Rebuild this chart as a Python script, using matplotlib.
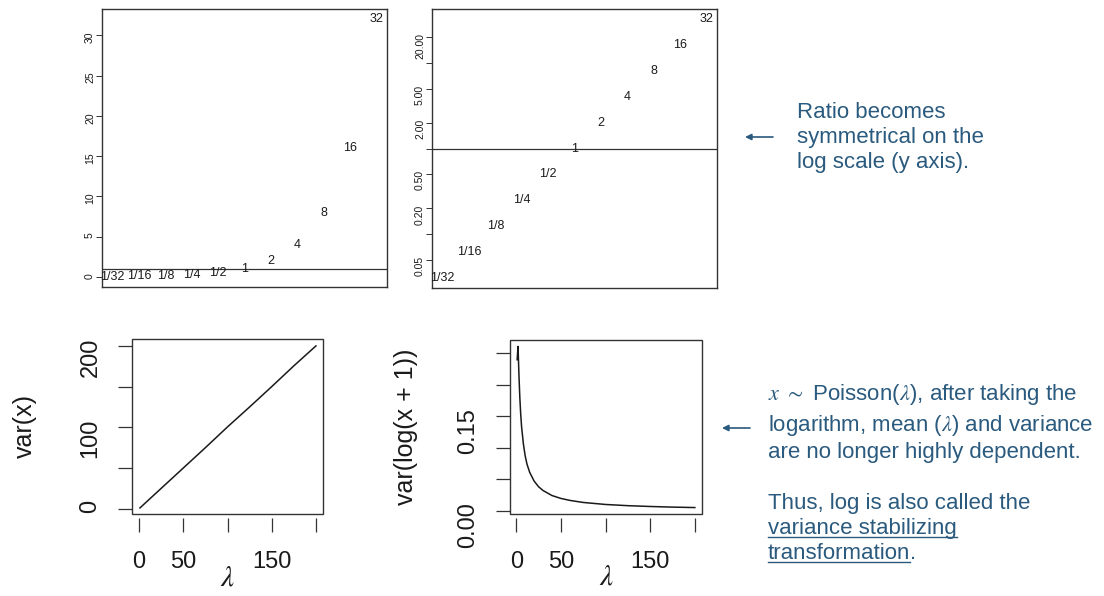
import matplotlib
matplotlib.use("Agg")
import matplotlib.pyplot as plt
from matplotlib.patches import Rectangle, FancyArrowPatch
from matplotlib.lines import Line2D
from matplotlib.ticker import NullLocator, FixedLocator, FixedFormatter

plt.rcParams['font.family'] = ['Liberation Sans', 'DejaVu Sans']
plt.rcParams['mathtext.fontset'] = 'stix'

# ---------------- data ----------------
ratio_labels = ["1/32", "1/16", "1/8", "1/4", "1/2", "1", "2", "4", "8", "16", "32"]
ratio_index = [1, 2, 3, 4, 5, 6, 7, 8, 9, 10, 11]
ratio_values = [0.03125, 0.0625, 0.125, 0.25, 0.5, 1, 2, 4, 8, 16, 32]

lin_yticks = [0, 5, 10, 15, 20, 25, 30]
lin_yticklabels = ["0", "5", "10", "15", "20", "25", "30"]
log_yticks = [0.05, 0.1, 0.2, 0.5, 1, 2, 5, 10, 20]
log_yticklabels = ["0.05", "", "0.20", "0.50", "", "2.00", "5.00", "", "20.00"]

lam_ticks = [0, 50, 100, 150, 200]
lam_ticklabels = ["0", "50", "", "150", ""]

lam_a = [1, 25, 50, 75, 100, 125, 150, 175, 200]
var_x = [1, 25, 50, 75, 100.5, 125, 150, 175.5, 200]
varx_ticks = [0, 50, 100, 150, 200]
varx_ticklabels = ["0", "", "100", "", "200"]

lam_b = [1, 2, 3, 4, 5, 6, 8, 10, 12, 15, 20, 25, 30, 40, 50, 60, 75, 100, 125, 150, 175, 200]
var_logx = [0.240, 0.261, 0.216, 0.180, 0.153, 0.133, 0.106, 0.087, 0.074, 0.061, 0.047,
            0.038, 0.032, 0.024, 0.0194, 0.0163, 0.013, 0.0098, 0.0079, 0.0066, 0.0056, 0.0049]
varlog_ticks = [0.0, 0.05, 0.10, 0.15, 0.20, 0.25]
varlog_ticklabels = ["0.00", "", "", "0.15", "", ""]

TEXT_BLUE = '#2a5a7e'
INK = '#1a1a1a'
BOX = '#333333'

W, H = 1104, 596
fig = plt.figure(figsize=(W / 100, H / 100), dpi=100)


def rect(x0, y0, x1, y1):
    return [x0 / W, 1 - y1 / H, (x1 - x0) / W, (y1 - y0) / H]


def fy(y):
    return 1 - y / H


# ---------------- top left: linear ----------------
ax1 = fig.add_axes(rect(102, 9, 387, 287))
ax1.plot(ratio_index, ratio_values, alpha=0)
ax1.margins(0.04)
for i, v, lab in zip(ratio_index, ratio_values, ratio_labels):
    ax1.text(i, v, lab, ha='center', va='center', fontsize=9, color=INK)
ax1.axhline(1, color=BOX, lw=0.9)
ax1.set_xticks([])
ax1.set_yticks(lin_yticks)
ax1.set_yticklabels(lin_yticklabels)

# ---------------- top right: log ----------------
ax2 = fig.add_axes(rect(432, 9, 717, 288))
ax2.set_yscale('log')
ax2.plot(ratio_index, ratio_values, alpha=0)
ax2.margins(0.04)
for i, v, lab in zip(ratio_index, ratio_values, ratio_labels):
    ax2.text(i, v, lab, ha='center', va='center', fontsize=9, color=INK)
ax2.axhline(1, color=BOX, lw=0.9)
ax2.set_xticks([])
ax2.yaxis.set_major_locator(FixedLocator(log_yticks))
ax2.yaxis.set_major_formatter(FixedFormatter(log_yticklabels))
ax2.yaxis.set_minor_locator(NullLocator())

for ax in (ax1, ax2):
    for s in ax.spines.values():
        s.set_color(BOX)
        s.set_linewidth(1.0)
    ax.tick_params(axis='y', length=4, width=0.7, color=BOX, labelsize=7.5,
                   labelrotation=90, pad=1, labelcolor=INK)


# ---------------- bottom panels ----------------
def style_bottom(ax):
    for s in ax.spines.values():
        s.set_visible(False)
    ax.spines['bottom'].set_position(('outward', 3))
    ax.add_patch(Rectangle((0, 0), 1, 1, transform=ax.transAxes, fill=False,
                           lw=1.0, ec=BOX, clip_on=False))
    ax.tick_params(axis='both', length=10, width=0.9, color=BOX, labelsize=17,
                   labelcolor=INK)
    ax.tick_params(axis='y', labelrotation=90, pad=12)
    ax.tick_params(axis='x', pad=14)


ax3 = fig.add_axes(rect(132, 339, 323, 514))
ax3.plot(lam_a, var_x, color=INK, lw=1.1)
ax3.set_xlim(-8, 208)
ax3.set_ylim(-6.5, 208.5)
style_bottom(ax3)
ax3.set_xticks(lam_ticks)
ax3.set_xticklabels(lam_ticklabels)
ax3.set_yticks(varx_ticks)
ax3.set_yticklabels(varx_ticklabels)
ax3.set_ylabel('var(x)', fontsize=18, color=INK)
ax3.yaxis.set_label_coords(-0.56, 0.5)
ax3.yaxis.label.set_va('center')
ax3.set_xlabel(r'$\lambda$', fontsize=21, color=INK)
ax3.xaxis.set_label_coords(0.5, -0.36)
ax3.xaxis.label.set_va('center')

ax4 = fig.add_axes(rect(510, 340, 702, 514))
ax4.plot(lam_b, var_logx, color=INK, lw=1.1)
ax4.set_xlim(-7, 208)
ax4.margins(y=0.04)
style_bottom(ax4)
ax4.set_xticks(lam_ticks)
ax4.set_xticklabels(lam_ticklabels)
ax4.set_yticks(varlog_ticks)
ax4.set_yticklabels(varlog_ticklabels)
ax4.set_ylabel('var(log(x + 1))', fontsize=18, color=INK)
ax4.yaxis.set_label_coords(-0.54, 0.5)
ax4.yaxis.label.set_va('center')
ax4.set_xlabel(r'$\lambda$', fontsize=21, color=INK)
ax4.xaxis.set_label_coords(0.5, -0.36)
ax4.xaxis.label.set_va('center')

# ---------------- annotations ----------------
FS = 16
top_lines = ["Ratio becomes", "symmetrical on the", "log scale (y axis)."]
top_base = [118, 143, 168]
for s, b in zip(top_lines, top_base):
    fig.text(797 / W, fy(b), s, fontsize=FS, color=TEXT_BLUE, va='baseline', ha='left')


def arrow(x_from, x_to, y):
    fig.add_artist(FancyArrowPatch(posA=(x_from / W, fy(y)), posB=(x_to / W, fy(y)),
                                   transform=fig.transFigure, arrowstyle='-|>',
                                   mutation_scale=9, lw=1.2, color=TEXT_BLUE,
                                   shrinkA=0, shrinkB=0))


arrow(773, 745, 137)

bx = 768
bot_lines = [r"$x$ $\sim$ Poisson($\lambda$), after taking the",
             r"logarithm, mean ($\lambda$) and variance",
             "are no longer highly dependent.",
             "Thus, log is also called the"]
bot_base = [400, 431, 458, 509]
for s, b in zip(bot_lines, bot_base):
    fig.text(bx / W, fy(b), s, fontsize=FS, color=TEXT_BLUE, va='baseline', ha='left')
arrow(750, 722, 428)

t_var = fig.text(bx / W, fy(534), "variance stabilizing", fontsize=FS, color=TEXT_BLUE,
                 va='baseline', ha='left')
t_tr = fig.text(bx / W, fy(559), "transformation", fontsize=FS, color=TEXT_BLUE,
                va='baseline', ha='left')
fig.canvas.draw()
r = fig.canvas.get_renderer()
bb1 = t_var.get_window_extent(r)
bb2 = t_tr.get_window_extent(r)
fig.text(bb2.x1 / W, fy(559), ".", fontsize=FS, color=TEXT_BLUE, va='baseline', ha='left')
for bb, b in ((bb1, 534), (bb2, 559)):
    yl = fy(b + 3)
    fig.add_artist(Line2D([bb.x0 / W, bb.x1 / W], [yl, yl], transform=fig.transFigure,
                          color=TEXT_BLUE, lw=1.0))

fig.savefig('out.png', dpi=100, facecolor='white')
